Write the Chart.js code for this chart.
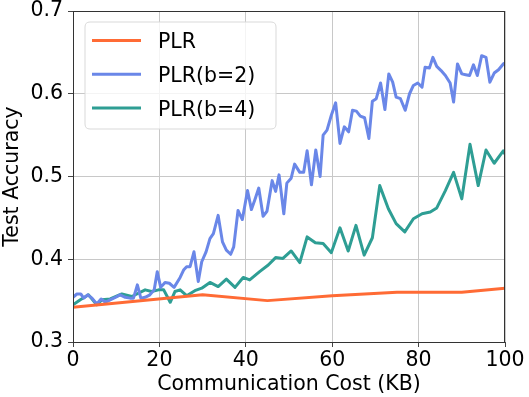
<!DOCTYPE html>
<html>
<head>
<meta charset="utf-8">
<script src="https://cdn.jsdelivr.net/npm/chart.js@4.4.1/dist/chart.umd.min.js"></script>
<style>
html,body{margin:0;padding:0;background:#fff;}
canvas{display:block;}
</style>
</head>
<body>
<canvas id="c" width="529" height="397"></canvas>
<script>
const seriesLabels = ["PLR", "PLR(b=2)", "PLR(b=4)"];
const xTicks = [0, 20, 40, 60, 80, 100];
const yTicks = [0.3, 0.4, 0.5, 0.6, 0.7];

const plrX = [0, 30, 45, 60, 75, 90, 100];
const plrY = [0.342, 0.357, 0.350, 0.356, 0.360, 0.360, 0.365];

const b2X = [0,0.9,1.8,2.5,3.4,4.4,5.5,6.5,7.5,8.6,9.8,10.9,12.1,13.2,14.0,14.9,15.7,16.7,17.8,18.8,19.5,20.3,21.3,22.3,23.4,24.8,25.6,26.3,27.1,28.0,29.0,29.8,30.8,31.7,32.5,33.6,34.6,35.5,36.5,37.2,38.2,39.2,40.4,41.3,42.1,43.0,44.0,44.9,46.1,46.9,47.7,48.8,49.5,50.5,51.3,52.5,53.4,54.2,55.2,56.2,57.2,57.9,58.8,59.8,60.8,61.8,62.8,63.8,64.7,65.6,66.5,67.5,68.5,69.3,70.2,71.2,72.2,73.1,74.0,74.8,75.8,76.9,77.9,78.8,79.8,80.8,81.5,82.5,83.3,84.2,85.2,86.2,87.3,88.1,89.0,90.0,90.9,91.8,92.7,93.6,94.6,95.6,96.5,97.5,98.5,99.6,100];
const b2Y = [0.354,0.358,0.358,0.353,0.357,0.353,0.346,0.352,0.348,0.351,0.354,0.357,0.354,0.353,0.353,0.369,0.353,0.354,0.357,0.363,0.385,0.366,0.372,0.371,0.366,0.378,0.387,0.391,0.391,0.409,0.373,0.397,0.409,0.425,0.431,0.453,0.421,0.411,0.406,0.415,0.459,0.448,0.483,0.460,0.472,0.486,0.452,0.458,0.495,0.482,0.502,0.455,0.492,0.498,0.515,0.505,0.505,0.531,0.490,0.532,0.500,0.550,0.556,0.574,0.589,0.540,0.560,0.554,0.580,0.579,0.573,0.571,0.546,0.591,0.594,0.613,0.581,0.624,0.614,0.596,0.594,0.580,0.600,0.610,0.613,0.608,0.632,0.631,0.644,0.633,0.628,0.622,0.613,0.590,0.636,0.624,0.623,0.622,0.635,0.622,0.646,0.644,0.614,0.625,0.629,0.636,0.637];

const b4X = [0,1.7,3.6,5.5,6.7,8.6,11.3,13.6,16.7,18.2,19.8,21.0,22.5,23.6,24.8,26.3,28.2,29.8,31.7,33.6,35.5,37.5,39.4,40.9,43.2,45.2,46.9,48.6,50.5,52.5,54.2,56.1,57.9,59.8,61.8,63.7,65.5,67.4,69.3,71.0,73.0,74.8,76.8,78.8,80.8,82.7,84.2,86.2,88.1,90.0,91.9,93.8,95.6,97.5,99.6,100];
const b4Y = [0.345,0.351,0.357,0.345,0.351,0.352,0.358,0.355,0.363,0.361,0.363,0.363,0.348,0.361,0.363,0.356,0.362,0.365,0.372,0.367,0.376,0.366,0.378,0.375,0.385,0.393,0.402,0.401,0.410,0.396,0.427,0.420,0.419,0.408,0.438,0.410,0.441,0.405,0.426,0.489,0.461,0.443,0.433,0.449,0.455,0.457,0.462,0.483,0.505,0.473,0.539,0.489,0.532,0.516,0.531,0.527];

const colors = ["#FF6B35", "#6A87E8", "#2E9E94"];
const FONT = "DejaVu Sans";
const FS = 20.5;

function pts(xs, ys){ return xs.map((x,i)=>({x:x, y:ys[i]})); }

const framePlugin = {
  id: 'frame',
  afterDatasetsDraw(chart){
    const {ctx, chartArea:a} = chart;
    ctx.save();
    ctx.strokeStyle = '#333';
    ctx.lineWidth = 1;
    ctx.strokeRect(Math.round(a.left)+0.5, Math.round(a.top)+0.5, Math.round(a.right-a.left)-1, Math.round(a.bottom-a.top));
    ctx.restore();
    const bx = 85, by = 22, bw = 191, bh = 107, r = 5;
    ctx.save();
    ctx.beginPath();
    ctx.moveTo(bx+r, by); ctx.lineTo(bx+bw-r, by); ctx.quadraticCurveTo(bx+bw, by, bx+bw, by+r);
    ctx.lineTo(bx+bw, by+bh-r); ctx.quadraticCurveTo(bx+bw, by+bh, bx+bw-r, by+bh);
    ctx.lineTo(bx+r, by+bh); ctx.quadraticCurveTo(bx, by+bh, bx, by+bh-r);
    ctx.lineTo(bx, by+r); ctx.quadraticCurveTo(bx, by, bx+r, by);
    ctx.closePath();
    ctx.fillStyle = 'rgba(255,255,255,0.8)';
    ctx.fill();
    ctx.strokeStyle = '#d9d9d9';
    ctx.lineWidth = 1;
    ctx.stroke();
    const rowY = [40.5, 74.2, 108];
    chart.data.datasets.forEach((ds, i) => {
      const y = rowY[i];
      ctx.beginPath();
      ctx.moveTo(92, y); ctx.lineTo(141, y);
      ctx.strokeStyle = ds.borderColor;
      ctx.lineWidth = 3;
      ctx.stroke();
      ctx.fillStyle = '#000';
      ctx.font = FS + 'px "' + FONT + '"';
      ctx.textBaseline = 'alphabetic';
      ctx.textAlign = 'left';
      ctx.fillText(ds.label, 158, y + 7.6);
    });
    ctx.restore();
  }
};

new Chart(document.getElementById('c'), {
  type: 'line',
  data: {
    datasets: [
      {label: seriesLabels[0], data: pts(plrX, plrY), borderColor: colors[0]},
      {label: seriesLabels[1], data: pts(b2X, b2Y), borderColor: colors[1]},
      {label: seriesLabels[2], data: pts(b4X, b4Y), borderColor: colors[2]}
    ].map(d => Object.assign(d, {borderWidth: 3, pointRadius: 0, tension: 0, fill: false, borderJoinStyle: 'round', borderCapStyle: 'round'}))
  },
  options: {
    responsive: false,
    devicePixelRatio: 1,
    animation: false,
    layout: {padding: {top: 11, right: 24, left: 0, bottom: 0}},
    plugins: {legend: {display: false}, tooltip: {enabled: false}},
    scales: {
      x: {
        type: 'linear', min: 0, max: 100,
        afterBuildTicks(s){ s.ticks = xTicks.map(v => ({value: v})); },
        afterFit(s){ s.height = 55; s.paddingLeft = 0; s.paddingRight = 0; },
        grid: {color: '#c8c8c8', tickColor: '#444', tickLength: 5, lineWidth: 1},
        border: {display: false},
        ticks: {color: '#000', font: {family: FONT, size: FS, lineHeight: 1}, padding: 3, maxRotation: 0, callback: v => String(v)},
        title: {display: true, text: 'Communication Cost (KB)', color: '#000', font: {family: FONT, size: FS}, padding: {top: 0, bottom: 0}}
      },
      y: {
        type: 'linear', min: 0.3, max: 0.7,
        afterBuildTicks(s){ s.ticks = yTicks.map(v => ({value: v})); },
        afterFit(s){ s.width = 73; s.paddingTop = 0; s.paddingBottom = 0; },
        grid: {color: '#c8c8c8', tickColor: '#444', tickLength: 5, lineWidth: 1},
        border: {display: false},
        ticks: {color: '#000', font: {family: FONT, size: FS, lineHeight: 1}, padding: 5, callback: v => v.toFixed(1)},
        title: {display: true, text: 'Test Accuracy', color: '#000', font: {family: FONT, size: FS}, padding: {top: 0, bottom: 0}}
      }
    }
  },
  plugins: [framePlugin]
});
</script>
</body>
</html>
